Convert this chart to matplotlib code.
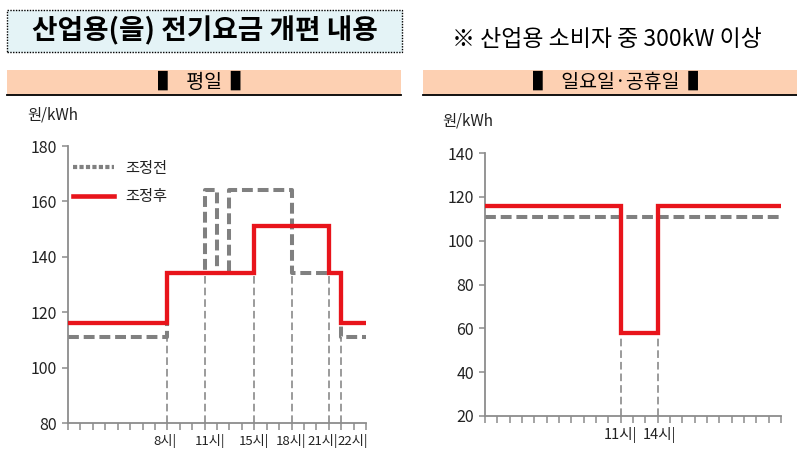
import matplotlib
matplotlib.use("Agg")
import matplotlib.pyplot as plt
from matplotlib.patches import Rectangle
from matplotlib.lines import Line2D
from matplotlib.transforms import ScaledTranslation
from matplotlib import font_manager

# ---------------- data ----------------
title = "산업용(을) 전기요금 개편 내용"
note = "※ 산업용 소비자 중 300kW 이상"
panel_titles = ["▌  평일  ▌", "▌  일요일·공휴일  ▌"]
unit_label = "원/kWh"
series_names = ["조정전", "조정후"]

# weekday (평일): step change hours and rates (value holds from that hour on)
wd_before_hours = [0, 8, 11, 12, 13, 18, 22, 24]
wd_before_vals = [111, 134, 164, 134, 164, 134, 111, 111]
wd_after_hours = [0, 8, 15, 21, 22, 24]
wd_after_vals = [116, 134, 151, 134, 116, 116]
wd_tick_hours = [8, 11, 15, 18, 21, 22]
wd_tick_labels = ["8시|", "11시|", "15시|", "18시|", "21시|", "22시|"]
wd_yticks = [80, 100, 120, 140, 160, 180]

# holiday (일요일·공휴일)
hd_before_hours = [0, 24]
hd_before_vals = [111, 111]
hd_after_hours = [0, 11, 14, 24]
hd_after_vals = [116, 58, 116, 116]
hd_tick_hours = [11, 14]
hd_tick_labels = ["11시|", "14시|"]
hd_yticks = [20, 40, 60, 80, 100, 120, 140]

# label nudges in pixels (layout only)
wd_label_shift = [-2, 5, 0, 0, -6, 12]
hd_label_shift = [0, 2]

# ---------------- style ----------------
W, H = 797, 462
KR = ["Noto Sans CJK KR", "DejaVu Sans"]
plt.rcParams["font.family"] = KR
names = set(font_manager.get_font_names())
NUM = ["Liberation Sans Narrow"] + KR if "Liberation Sans Narrow" in names else KR

RED = "#e8141b"
GRAY = "#808080"
AXC = "#8c8c8c"
TXT = "#222222"

fig = plt.figure(figsize=(W / 100, H / 100), dpi=100)
fig.patch.set_facecolor("white")


def fx(x):
    return x / W


def fy(y):
    return 1 - y / H


# title box
fig.patches.append(Rectangle((fx(7), fy(52)), fx(402) - fx(7), fy(10) - fy(52),
                             transform=fig.transFigure, facecolor="#e4f3f6",
                             edgecolor="black", linestyle=(0, (1, 1)), linewidth=1))
fig.text(fx(205), fy(31), title, ha="center", va="center", fontsize=20,
         fontweight="heavy", color="black", family=KR)
fig.text(fx(607), fy(40), note, ha="center", va="center", fontsize=16.5,
         color="black", family=KR)

# panel header bands
for (x0, x1, tx), label in zip([(7, 401, 204), (423, 797, 620)], panel_titles):
    fig.patches.append(Rectangle((fx(x0), fy(95)), fx(x1) - fx(x0), fy(70) - fy(95),
                                 transform=fig.transFigure, facecolor="#fdd0b2",
                                 edgecolor="none"))
    fig.lines.append(Line2D([fx(x0), fx(x1)], [fy(95), fy(95)],
                            transform=fig.transFigure, color="black", lw=1.3))
    fig.text(fx(tx), fy(82.5), label, ha="center", va="center", fontsize=14,
             color="black", family=KR)


def step_xy(hours, vals):
    xs, ys = [], []
    for i in range(len(hours) - 1):
        xs += [hours[i], hours[i + 1]]
        ys += [vals[i], vals[i]]
    return xs, ys


def value_around(hours, vals, h):
    out = []
    for i in range(len(hours) - 1):
        if hours[i] <= h <= hours[i + 1]:
            out.append(vals[i])
    return out


def make_panel(rect_px, ylim, yticks, before, after, tick_hours, tick_labels,
               shifts, unit_xy, xlab_size):
    x0, y0, x1, y1 = rect_px
    ax = fig.add_axes([fx(x0), fy(y1), fx(x1) - fx(x0), fy(y0) - fy(y1)])
    ax.set_xlim(0, 24)
    ax.set_ylim(*ylim)
    for s in ["top", "right"]:
        ax.spines[s].set_visible(False)
    for s in ["left", "bottom"]:
        ax.spines[s].set_color(AXC)
        ax.spines[s].set_linewidth(1.3)

    # reference dashed verticals
    for h in tick_hours:
        top = min(value_around(*before, h) + value_around(*after, h))
        ax.vlines(h, ylim[0], top, colors=GRAY, linestyles=(0, (5, 2.6)), lw=1.1, zorder=1)

    bx, by = step_xy(*before)
    ax.plot(bx, by, color=GRAY, lw=2.9, linestyle=(0, (2.7, 1.2)), zorder=2,
            solid_joinstyle="miter")
    rx, ry = step_xy(*after)
    ax.plot(rx, ry, color=RED, lw=3.1, zorder=3, solid_joinstyle="miter",
            solid_capstyle="butt", clip_on=False)

    ax.set_yticks(yticks)
    ax.set_yticklabels([str(v) for v in yticks], family=NUM, fontsize=11.5, color=TXT)
    ax.tick_params(axis="y", direction="out", length=4, width=1.1, color=AXC, pad=4)

    ax.set_xticks(range(0, 25), minor=True)
    ax.set_xticks(tick_hours)
    ax.set_xticklabels(tick_labels, family=NUM, fontsize=xlab_size, color=TXT)
    ax.tick_params(axis="x", which="minor", direction="out", length=5, width=1.1, color=AXC)
    ax.tick_params(axis="x", which="major", direction="out", length=5, width=1.1,
                   color=AXC, pad=3)
    for lab, dx in zip(ax.get_xticklabels(), shifts):
        lab.set_transform(lab.get_transform() +
                          ScaledTranslation(dx / 100, 0, fig.dpi_scale_trans))

    fig.text(fx(unit_xy[0]), fy(unit_xy[1]), unit_label, ha="left", va="center",
             fontsize=11, color=TXT, family=NUM)
    return ax


axL = make_panel((68, 146, 366, 423), (80, 180), wd_yticks,
                 (wd_before_hours, wd_before_vals), (wd_after_hours, wd_after_vals),
                 wd_tick_hours, wd_tick_labels, wd_label_shift, (27, 115), 9.5)
axR = make_panel((485, 153, 781, 416), (20, 140), hd_yticks,
                 (hd_before_hours, hd_before_vals), (hd_after_hours, hd_after_vals),
                 hd_tick_hours, hd_tick_labels, hd_label_shift, (442, 121), 10.5)

handles = [Line2D([], [], color=GRAY, lw=3.0, linestyle=(0, (1, 0.55))),
           Line2D([], [], color=RED, lw=3.3)]
axL.legend(handles, series_names, loc="upper left", bbox_to_anchor=(-0.03, 1.0),
           frameon=False, handlelength=2.7, handletextpad=0.7, labelspacing=0.75,
           prop={"family": KR, "size": 11}, labelcolor=TXT)

fig.savefig("out.png", dpi=100, facecolor="white")
